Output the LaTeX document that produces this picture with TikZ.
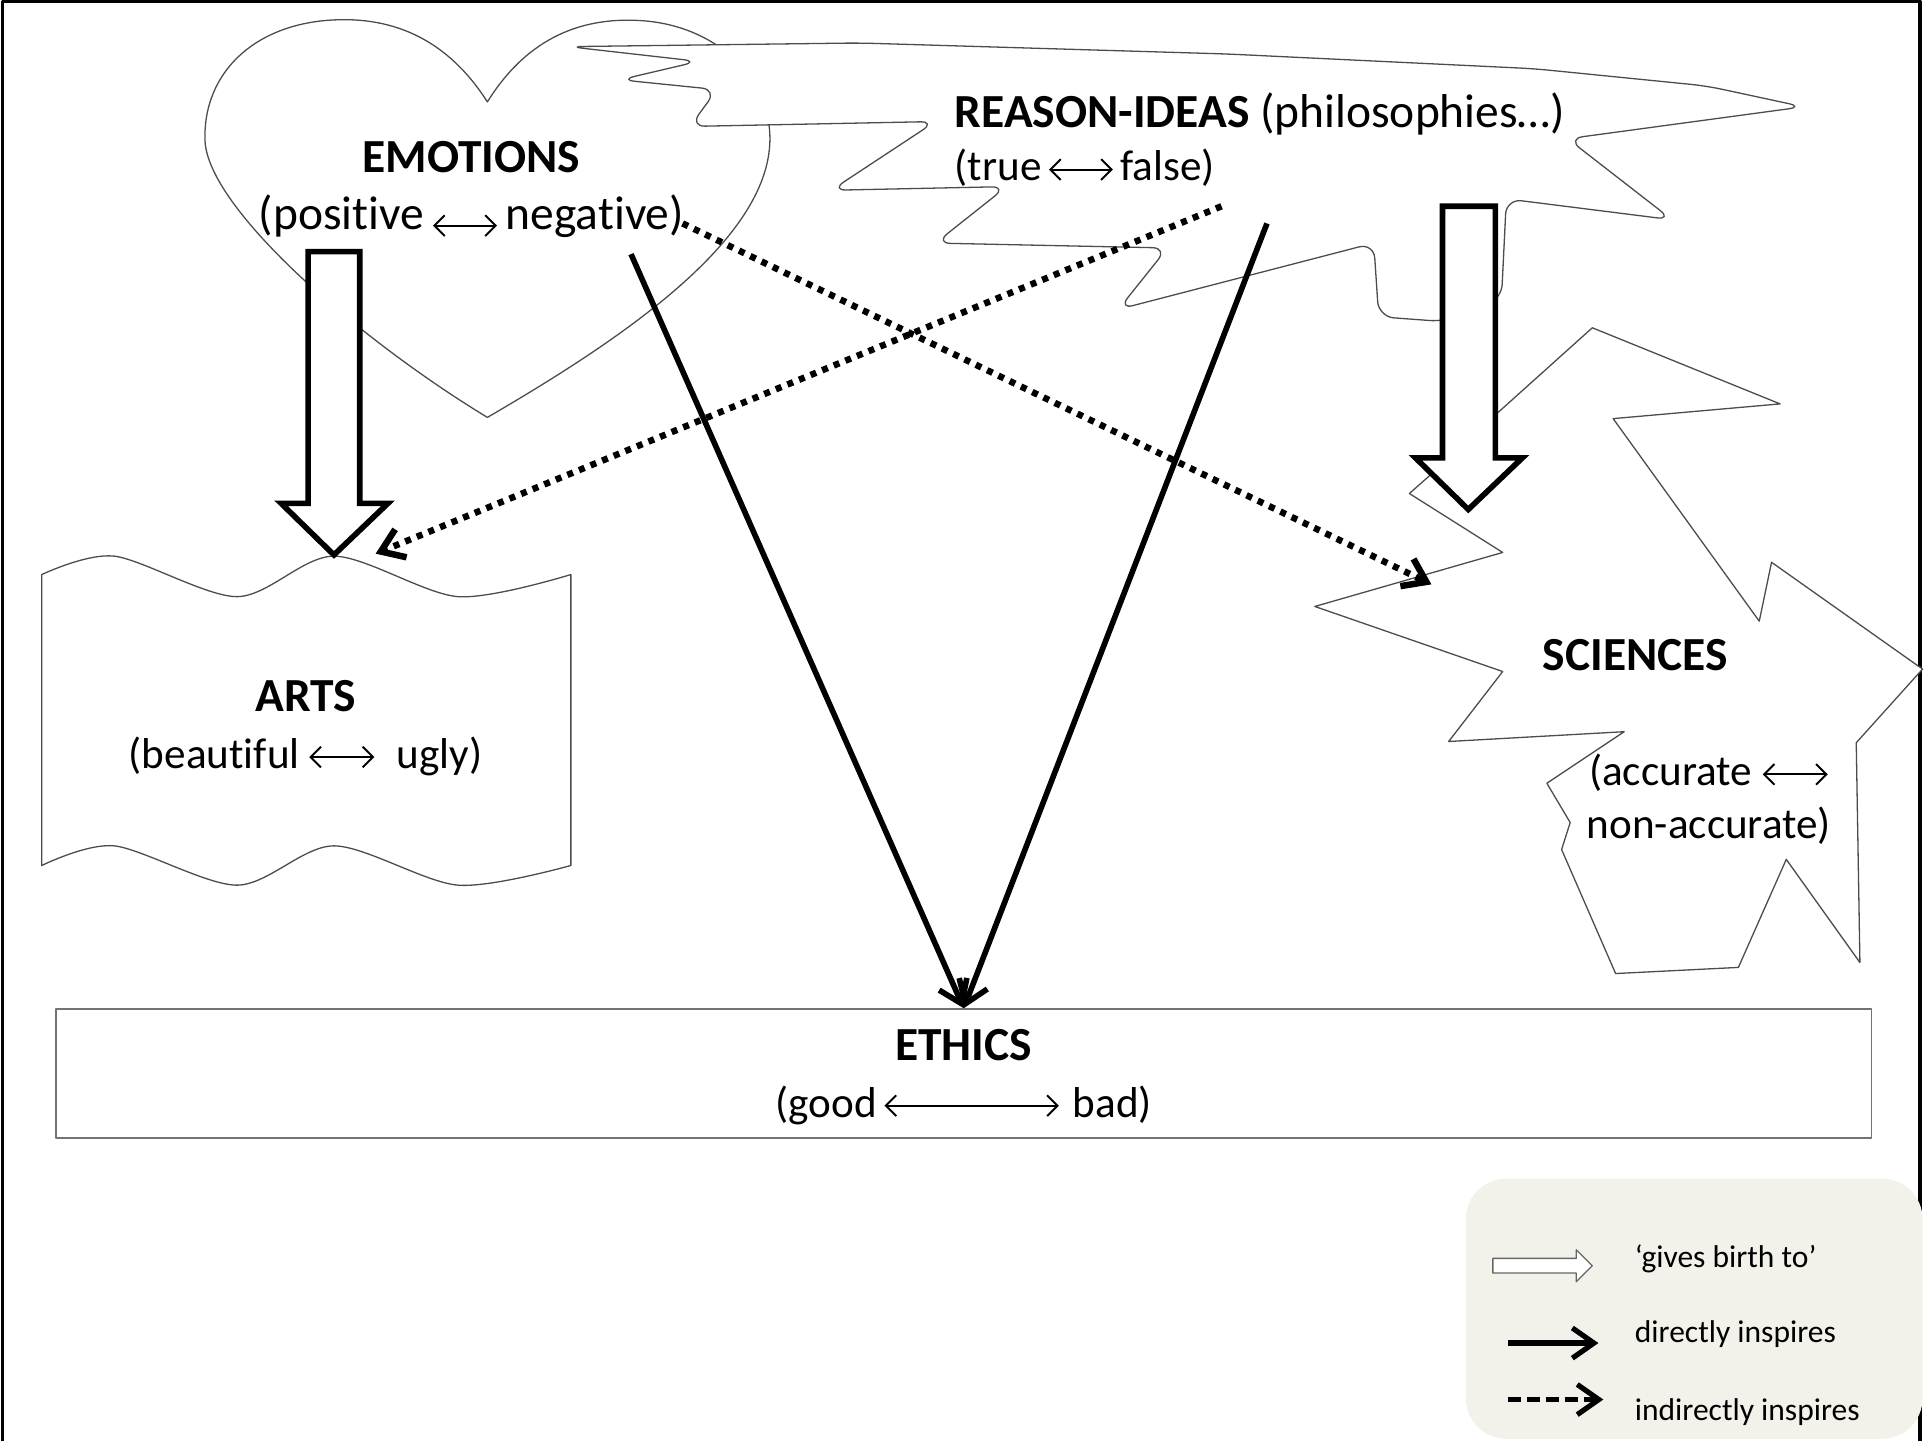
\documentclass[tikz,border=0pt]{standalone}
\usepackage{fontspec}
\setmainfont{Carlito}[Ligatures={TeX,NoCommon}]
\usetikzlibrary{arrows.meta}
\definecolor{keyfill}{RGB}{242,241,234}
\newcommand{\lrarrow}[2][0.55ex]{\tikz[baseline=-#1]\draw[line width=0.45pt,{Straight Barb[length=2.4pt,width=4.8pt]}-{Straight Barb[length=2.4pt,width=4.8pt]}] (0,0)--(#2,0);}
\newcommand{\subsize}{\fontsize{10}{12.2}\selectfont}
\tikzset{
	outline/.style={draw=black!70,line width=0.3pt},
	birth/.style={draw,line width=1.3pt,fill=white,line join=miter},
	tip/.style={-{Straight Barb[length=5pt,width=7pt]}},
	direct/.style={tip,line width=1.3pt},
	indirect/.style={tip,line width=1.5pt,dash pattern=on 1.4pt off 1.5pt},
	lbl/.style={inner sep=0pt,align=center,font=\fontsize{11}{13.2}\selectfont},
	keylbl/.style={inner sep=0pt,anchor=west,font=\fontsize{7.3}{9}\selectfont},
}
\begin{document}
\begin{tikzpicture}[x=0.01cm,y=-0.01cm,line join=round]
	\useasboundingbox (0,0) rectangle (1568,1173);
	\draw[line width=0.8pt] (2,1180)--(2,1.3)--(1564,1.3)--(1564,1180);
	% heart
	\draw[outline] (397,83) .. controls (360,25) and (310,12) .. (262,17)
		.. controls (200,24) and (165,65) .. (167,115)
		.. controls (170,170) and (290,275) .. (397,340)
		.. controls (500,280) and (622,200) .. (627,118)
		.. controls (630,65) and (585,22) .. (525,17)
		.. controls (475,13) and (430,30) .. (397,83)--cycle;
	% cloud
	\draw[outline,fill=white,rounded corners=3.5pt] (463,38)--(700,35)--(1000,44)--(1250,56)--(1390,70)--(1469,87)
		--(1277,113)--(1362,179)--(1227,162)--(1223,244)--(1177,262)--(1123,258)--(1119,198)
		--(911,252)--(951,202)--(762,198)--(820,152)--(677,155)--(762,99)--(562,103)
		--(584,73)--(505,65)--(569,50)--cycle;
	% sciences
	\draw[outline,fill=white] (1297,267)--(1450,329)--(1314,341)--(1433,506)--(1443,458)--(1566,545)
		--(1512,605)--(1515,784)--(1455,700)--(1416,788)--(1316,793)--(1272,692)--(1279,670)
		--(1260,638)--(1323,596)--(1180,604)--(1224,547)--(1071,494)--(1224,450)--(1148,402)
		--(1165,387)--(1218,338)--cycle;
	% arts
	\draw[outline] plot[smooth] coordinates {(34,468) (93,453) (193,486) (272,453) (373,486) (465,468)}
		--plot[smooth] coordinates {(465,705) (373,721) (272,689) (193,721) (93,689) (34,705)}--cycle;
	% gives birth to
	\draw[birth] (251,205)--(293,205)--(293,410)--(316,410)--(272,452)--(229,410)--(251,410)--cycle;
	\draw[birth] (1175,168)--(1218,168)--(1218,373)--(1240,373)--(1196,415)--(1153,373)--(1175,373)--cycle;

	\node[lbl] (emo) at (384,154) {\textbf{EMOTIONS}\\(positive\,\lrarrow[0.15ex]{0.52cm}\,negative)};
	\node[lbl,align=left,anchor=west,font=\fontsize{11}{12.3}\selectfont] (reason) at (777,114) {\textbf{REASON-IDEAS} (philosophies…)\\\subsize(true\kern1.5pt\lrarrow{0.52cm}\kern1.5pt false)};
	\node[lbl] (arts) at (249,593) {\textbf{ARTS}\\\subsize(beautiful\kern2pt\lrarrow{0.53cm}\enspace ugly)};
	\node[lbl] (sci) at (1332,534) {\textbf{SCIENCES}};
	\node[lbl,font=\subsize] (sciDesc) at (1392,651) {(accurate \lrarrow{0.53cm}\\ non-accurate)};
	\node[draw=black!55,line width=0.4pt,minimum width=14.78cm,minimum height=1.05cm] (ethics) at (785,874.5) {};
	\node[lbl] (ethicsLbl) at (785,877) {\textbf{ETHICS}\\\subsize(good\kern1.5pt\lrarrow{1.42cm}\kern3pt bad)};

	\coordinate (emoOut) at (514,207);
	\coordinate (reasonOut) at (1032,182);
	\coordinate (emoDot) at (556,182);
	\coordinate (reasonDot) at (995,168);
	\coordinate (sciIn) at (1166,476);
	\coordinate (artsIn) at (306,451);
	\draw[direct] (emoOut)--(ethics.north);
	\draw[direct] (reasonOut)--(ethics.north);
	\draw[indirect] (emoDot)--(sciIn);
	\draw[indirect] (reasonDot)--(artsIn);

	% key
	\fill[keyfill,rounded corners=0.33cm] (1194,960) rectangle (1566,1172);
	\draw[draw=black!60,line width=0.3pt,fill=white] (1216,1025)--(1284,1025)--(1284,1018)--(1297,1031)--(1284,1044)--(1284,1037)--(1216,1037)--cycle;
	\node[keylbl] (keyBirth) at (1331,1025) {‘gives birth to’};
	\node[keylbl] (keyDirect) at (1331,1087) {directly inspires};
	\node[keylbl] (keyIndirect) at (1331,1150) {indirectly inspires};
	\coordinate (directA) at (1228,1094);
	\coordinate (directB) at (1302,1094);
	\coordinate (indirectA) at (1228,1140);
	\coordinate (indirectB) at (1306,1140);
	\draw[direct,line width=1.2pt] (directA)--(directB);
	\draw[tip,line width=1.2pt,dash pattern=on 3.1pt off 1.3pt] (indirectA)--(indirectB);
\end{tikzpicture}
\end{document}
